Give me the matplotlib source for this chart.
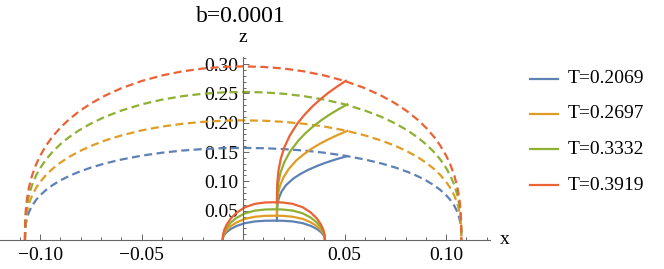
import matplotlib
matplotlib.use("Agg")
import matplotlib.pyplot as plt
from matplotlib.ticker import MultipleLocator, FixedLocator, FixedFormatter

# ------------------------------------------------------------
# values
# ------------------------------------------------------------
TITLE = "b=0.0001"
T_LABELS = ["T=0.2069", "T=0.2697", "T=0.3332", "T=0.3919"]
COLORS = ["#5E81B5", "#E19C24", "#8FB032", "#EB6235"]

# dashed outer curves (shared x grid)
DASH_X = [-0.1075, -0.1074, -0.1071, -0.1065, -0.1055, -0.104, -0.102, -0.100, -0.097, -0.094,
          -0.090, -0.086, -0.081, -0.075, -0.068, -0.060, -0.050, -0.040, -0.030, -0.020, -0.010,
          0.0,
          0.010, 0.020, 0.030, 0.040, 0.050, 0.060, 0.068, 0.075, 0.081, 0.086, 0.090,
          0.094, 0.097, 0.100, 0.102, 0.104, 0.1055, 0.1065, 0.1071, 0.1074, 0.1075]
DASH_Z = [
    [0, 0.0163, 0.0269, 0.0373, 0.0479, 0.0584, 0.0685, 0.0763, 0.0857, 0.0933, 0.1017,
     0.1087, 0.1161, 0.1235, 0.1306, 0.1372, 0.1438, 0.1488, 0.1525, 0.1550, 0.1565,
     0.1570,
     0.1565, 0.1550, 0.1525, 0.1488, 0.1438, 0.1372, 0.1306, 0.1235, 0.1161, 0.1087,
     0.1017, 0.0933, 0.0857, 0.0763, 0.0685, 0.0584, 0.0479, 0.0373, 0.0269, 0.0163, 0],
    [0, 0.0212, 0.0349, 0.0485, 0.0622, 0.0759, 0.0889, 0.0991, 0.1113, 0.1212, 0.1321,
     0.1412, 0.1508, 0.1604, 0.1697, 0.1783, 0.1869, 0.1934, 0.1981, 0.2014, 0.2034,
     0.2040,
     0.2034, 0.2014, 0.1981, 0.1934, 0.1869, 0.1783, 0.1697, 0.1604, 0.1508, 0.1412,
     0.1321, 0.1212, 0.1113, 0.0991, 0.0889, 0.0759, 0.0622, 0.0485, 0.0349, 0.0212, 0],
    [0, 0.0263, 0.0432, 0.0600, 0.0770, 0.0939, 0.1101, 0.1227, 0.1378, 0.1500, 0.1635,
     0.1748, 0.1867, 0.1986, 0.2101, 0.2207, 0.2313, 0.2393, 0.2452, 0.2493, 0.2517,
     0.2525,
     0.2517, 0.2493, 0.2452, 0.2393, 0.2313, 0.2207, 0.2101, 0.1986, 0.1867, 0.1748,
     0.1635, 0.1500, 0.1378, 0.1227, 0.1101, 0.0939, 0.0770, 0.0600, 0.0432, 0.0263, 0],
    [0, 0.0308, 0.0507, 0.0704, 0.0903, 0.1101, 0.1291, 0.1438, 0.1615, 0.1759, 0.1917,
     0.2049, 0.2189, 0.2328, 0.2462, 0.2588, 0.2711, 0.2805, 0.2875, 0.2923, 0.2951,
     0.2960,
     0.2951, 0.2923, 0.2875, 0.2805, 0.2711, 0.2588, 0.2462, 0.2328, 0.2189, 0.2049,
     0.1917, 0.1759, 0.1615, 0.1438, 0.1291, 0.1101, 0.0903, 0.0704, 0.0507, 0.0308, 0],
]

# small solid arches (shared x grid)
ARCH_X = [-0.0101, -0.0099, -0.0093, -0.0081, -0.0061, -0.0031, 0.0009, 0.0059, 0.0109, 0.0151,
          0.0193, 0.0243, 0.0293, 0.0333, 0.0363, 0.0383, 0.0395, 0.0401, 0.0403]
ARCH_Z = [
    [0, 0.0046, 0.0089, 0.0135, 0.0188, 0.0241, 0.0287, 0.0317, 0.0328, 0.0330,
     0.0328, 0.0317, 0.0287, 0.0241, 0.0188, 0.0135, 0.0089, 0.0046, 0],
    [0, 0.0058, 0.0112, 0.0170, 0.0236, 0.0302, 0.0360, 0.0397, 0.0412, 0.0414,
     0.0412, 0.0397, 0.0360, 0.0302, 0.0236, 0.0170, 0.0112, 0.0058, 0],
    [0, 0.0073, 0.0141, 0.0214, 0.0298, 0.0382, 0.0455, 0.0502, 0.0520, 0.0523,
     0.0520, 0.0502, 0.0455, 0.0382, 0.0298, 0.0214, 0.0141, 0.0073, 0],
    [0, 0.0090, 0.0174, 0.0264, 0.0367, 0.0469, 0.0559, 0.0617, 0.0640, 0.0643,
     0.0640, 0.0617, 0.0559, 0.0469, 0.0367, 0.0264, 0.0174, 0.0090, 0],
]

# rising solid branches from the arch up to the dashed curve
BRANCH_X = [
    [0.0166, 0.0167, 0.0169, 0.0176, 0.0189, 0.0211, 0.0246, 0.0280, 0.0322, 0.0366,
     0.0408, 0.0457, 0.0513],
    [0.0166, 0.0167, 0.0171, 0.0181, 0.0198, 0.0224, 0.0261, 0.0296, 0.0337, 0.0379,
     0.0419, 0.0464, 0.0513],
    [0.0166, 0.0168, 0.0173, 0.0184, 0.0203, 0.0231, 0.0270, 0.0304, 0.0345, 0.0386,
     0.0424, 0.0467, 0.0513],
    [0.0166, 0.01677, 0.0173, 0.0184, 0.0202, 0.0230, 0.0268, 0.0302, 0.0342, 0.0382,
     0.0419, 0.0461, 0.0506],
]
BRANCH_Z = [
    [0.0330, 0.0495, 0.0605, 0.0715, 0.0825, 0.0935, 0.1045, 0.1122, 0.1199, 0.1265,
     0.1320, 0.1375, 0.1430],
    [0.0414, 0.0631, 0.0776, 0.0920, 0.1065, 0.1209, 0.1354, 0.1455, 0.1556, 0.1643,
     0.1715, 0.1788, 0.1860],
    [0.0523, 0.0792, 0.0971, 0.1150, 0.1329, 0.1508, 0.1687, 0.1812, 0.1937, 0.2045,
     0.2134, 0.2224, 0.2313],
    [0.0643, 0.0954, 0.1161, 0.1368, 0.1575, 0.1783, 0.1990, 0.2135, 0.2280, 0.2404,
     0.2508, 0.2611, 0.2715],
]

X_MAJOR = [-0.10, -0.05, 0.05, 0.10]
X_MAJOR_LABELS = ["\u22120.10", "\u22120.05", "0.05", "0.10"]
Z_MAJOR = [0.05, 0.10, 0.15, 0.20, 0.25, 0.30]
Z_MAJOR_LABELS = ["0.05", "0.10", "0.15", "0.20", "0.25", "0.30"]

W, H = 664, 269
SERIF = ["Liberation Serif", "DejaVu Serif"]
AXIS_GRAY = "#666666"
FS = 14

plt.rcParams["font.family"] = SERIF

fig = plt.figure(figsize=(W / 100, H / 100), dpi=100)
ax = fig.add_axes([0.0, 29 / H, 490 / W, 183 / H])
ax.set_xlim(-0.1198, 0.1216)
ax.set_ylim(0, 0.312)

for i in range(4):
    ax.plot(DASH_X, DASH_Z[i], color=COLORS[i], lw=1.6, dashes=(3.6, 2.0), clip_on=False)
for i in range(4):
    ax.plot(ARCH_X, ARCH_Z[i], color=COLORS[i], lw=1.6, clip_on=False,
            solid_capstyle="butt", solid_joinstyle="round")
    ax.plot(BRANCH_X[i], BRANCH_Z[i], color=COLORS[i], lw=1.6, clip_on=False,
            solid_joinstyle="round")

# axes crossing at the origin
for side in ["top", "right"]:
    ax.spines[side].set_visible(False)
for side in ["left", "bottom"]:
    ax.spines[side].set_position(("data", 0))
    ax.spines[side].set_color(AXIS_GRAY)
    ax.spines[side].set_linewidth(0.8)

ax.xaxis.set_major_locator(FixedLocator(X_MAJOR))
ax.xaxis.set_major_formatter(FixedFormatter(X_MAJOR_LABELS))
ax.xaxis.set_minor_locator(MultipleLocator(0.01))
ax.yaxis.set_major_locator(FixedLocator(Z_MAJOR))
ax.yaxis.set_major_formatter(FixedFormatter(Z_MAJOR_LABELS))
ax.yaxis.set_minor_locator(MultipleLocator(0.01))
ax.tick_params(which="both", direction="in", color=AXIS_GRAY, width=0.7, labelsize=FS)
ax.tick_params(which="major", length=4.5)
ax.tick_params(axis="x", which="major", pad=5)
ax.tick_params(axis="y", which="major", pad=3.5)
ax.tick_params(which="minor", length=2.5)
ax.patch.set_visible(False)

fig.text(241 / W, 1 - 16 / H, TITLE, ha="center", va="center", fontsize=17)
fig.text(243 / W, 1 - 38 / H, "z", ha="center", va="center", fontsize=FS)
fig.text(505 / W, 1 - 240 / H, "x", ha="center", va="center", fontsize=FS)

# hand-drawn legend on the right
legend_rows = [79, 114, 149, 185]
for i in range(4):
    y = 1 - legend_rows[i] / H
    fig.add_artist(plt.Line2D([530 / W, 558 / W], [y, y], color=COLORS[i], lw=1.6))
    fig.text(568 / W, y, T_LABELS[i], ha="left", va="center", fontsize=FS)

fig.savefig("out.png", dpi=100)
